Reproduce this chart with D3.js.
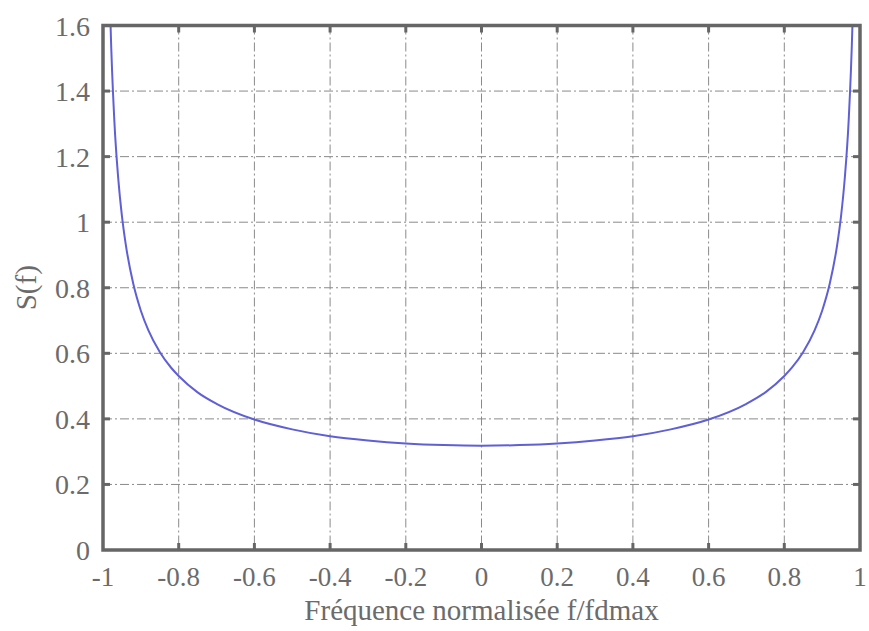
<!DOCTYPE html>
<html>
<head>
<meta charset="utf-8">
<script src="https://cdn.jsdelivr.net/npm/d3@7"></script>
<style>
  body { margin: 0; background: #fff; }
  svg text { font-family: 'Liberation Serif', serif; }
</style>
</head>
<body>
<div id="viz"></div>
<script>
// values
var freq = [-0.985, -0.98, -0.97, -0.96, -0.95, -0.94, -0.92, -0.90, -0.88, -0.85, -0.82, -0.80,
    -0.75, -0.70, -0.60, -0.50, -0.40, -0.30, -0.20, -0.10, 0,
    0.10, 0.20, 0.30, 0.40, 0.50, 0.60, 0.70, 0.75,
    0.80, 0.82, 0.85, 0.88, 0.90, 0.92, 0.94, 0.95, 0.96, 0.97, 0.98, 0.985];
var spectrum = [1.845, 1.600, 1.309, 1.137, 1.019, 0.933, 0.812, 0.730, 0.670, 0.604, 0.556, 0.531,
    0.481, 0.446, 0.398, 0.368, 0.347, 0.334, 0.325, 0.320, 0.318,
    0.320, 0.325, 0.334, 0.347, 0.368, 0.398, 0.446, 0.481,
    0.531, 0.556, 0.604, 0.670, 0.730, 0.812, 0.933, 1.019, 1.137, 1.309, 1.600, 1.845];
var xTicks = [-1, -0.8, -0.6, -0.4, -0.2, 0, 0.2, 0.4, 0.6, 0.8, 1];
var yTicks = [0, 0.2, 0.4, 0.6, 0.8, 1, 1.2, 1.4, 1.6];

var W = 869, H = 631;
var margin = {top: 25.5, right: 9, bottom: 81, left: 103};
var width = W - margin.left - margin.right,
    height = H - margin.top - margin.bottom;

var svg = d3.select('#viz').append('svg')
    .attr('width', W)
    .attr('height', H);

var x = d3.scaleLinear().domain([-1, 1]).range([0, width]);
var y = d3.scaleLinear().domain([0, 1.6]).range([height, 0]);

var g = svg.append('g')
    .attr('transform', 'translate(' + margin.left + ',' + margin.top + ')');

svg.append('defs').append('clipPath').attr('id', 'clip')
    .append('rect').attr('width', width).attr('height', height);

// grid
g.append('g').selectAll('line.gx')
    .data(xTicks.slice(1, -1))
    .enter().append('line')
    .attr('x1', d => x(d)).attr('x2', d => x(d))
    .attr('y1', 0).attr('y2', height)
    .attr('stroke', '#8a8a8a').attr('stroke-width', 1)
    .attr('stroke-dasharray', '9,3,2,3');

g.append('g').selectAll('line.gy')
    .data(yTicks.slice(1, -1))
    .enter().append('line')
    .attr('y1', d => y(d)).attr('y2', d => y(d))
    .attr('x1', 0).attr('x2', width)
    .attr('stroke', '#8a8a8a').attr('stroke-width', 1)
    .attr('stroke-dasharray', '9,3,2,3');

// curve
var line = d3.line()
    .x((d, i) => x(freq[i]))
    .y(d => y(d))
    .curve(d3.curveMonotoneX);

g.append('path')
    .datum(spectrum)
    .attr('clip-path', 'url(#clip)')
    .attr('d', line)
    .attr('fill', 'none')
    .attr('stroke', '#5f5fd6')
    .attr('stroke-width', 2);

// ticks (inside)
var tickLen = 7;
xTicks.slice(1, -1).forEach(function(t) {
    g.append('line').attr('x1', x(t)).attr('x2', x(t)).attr('y1', height).attr('y2', height - tickLen)
        .attr('stroke', '#666').attr('stroke-width', 3);
    g.append('line').attr('x1', x(t)).attr('x2', x(t)).attr('y1', 0).attr('y2', tickLen)
        .attr('stroke', '#666').attr('stroke-width', 3);
});
yTicks.slice(1, -1).forEach(function(t) {
    g.append('line').attr('y1', y(t)).attr('y2', y(t)).attr('x1', 0).attr('x2', tickLen)
        .attr('stroke', '#666').attr('stroke-width', 3);
    g.append('line').attr('y1', y(t)).attr('y2', y(t)).attr('x1', width).attr('x2', width - tickLen)
        .attr('stroke', '#666').attr('stroke-width', 3);
});

// frame
g.append('rect')
    .attr('width', width).attr('height', height)
    .attr('fill', 'none')
    .attr('stroke', '#666').attr('stroke-width', 3.5);

// tick labels
g.append('g').selectAll('text')
    .data(xTicks)
    .enter().append('text')
    .attr('x', d => x(d))
    .attr('y', height + 36)
    .attr('text-anchor', 'middle')
    .attr('fill', '#6b6b6b')
    .attr('font-size', 27)
    .text(d => d3.format('')(d).replace('−', '-'));

g.append('g').selectAll('text')
    .data(yTicks)
    .enter().append('text')
    .attr('x', -13)
    .attr('y', d => y(d) + 10)
    .attr('text-anchor', 'end')
    .attr('fill', '#6b6b6b')
    .attr('font-size', 28)
    .text(d => d3.format('')(d));

// axis titles
svg.append('text')
    .attr('x', margin.left + width / 2)
    .attr('y', 620)
    .attr('text-anchor', 'middle')
    .attr('fill', '#6b6b6b')
    .attr('font-size', 29)
    .text('Fréquence normalisée f/fdmax');

svg.append('text')
    .attr('transform', 'translate(36,' + (margin.top + y(0.8)) + ') rotate(-90)')
    .attr('text-anchor', 'middle')
    .attr('fill', '#6b6b6b')
    .attr('font-size', 29)
    .text('S(f)');
</script>
</body>
</html>
